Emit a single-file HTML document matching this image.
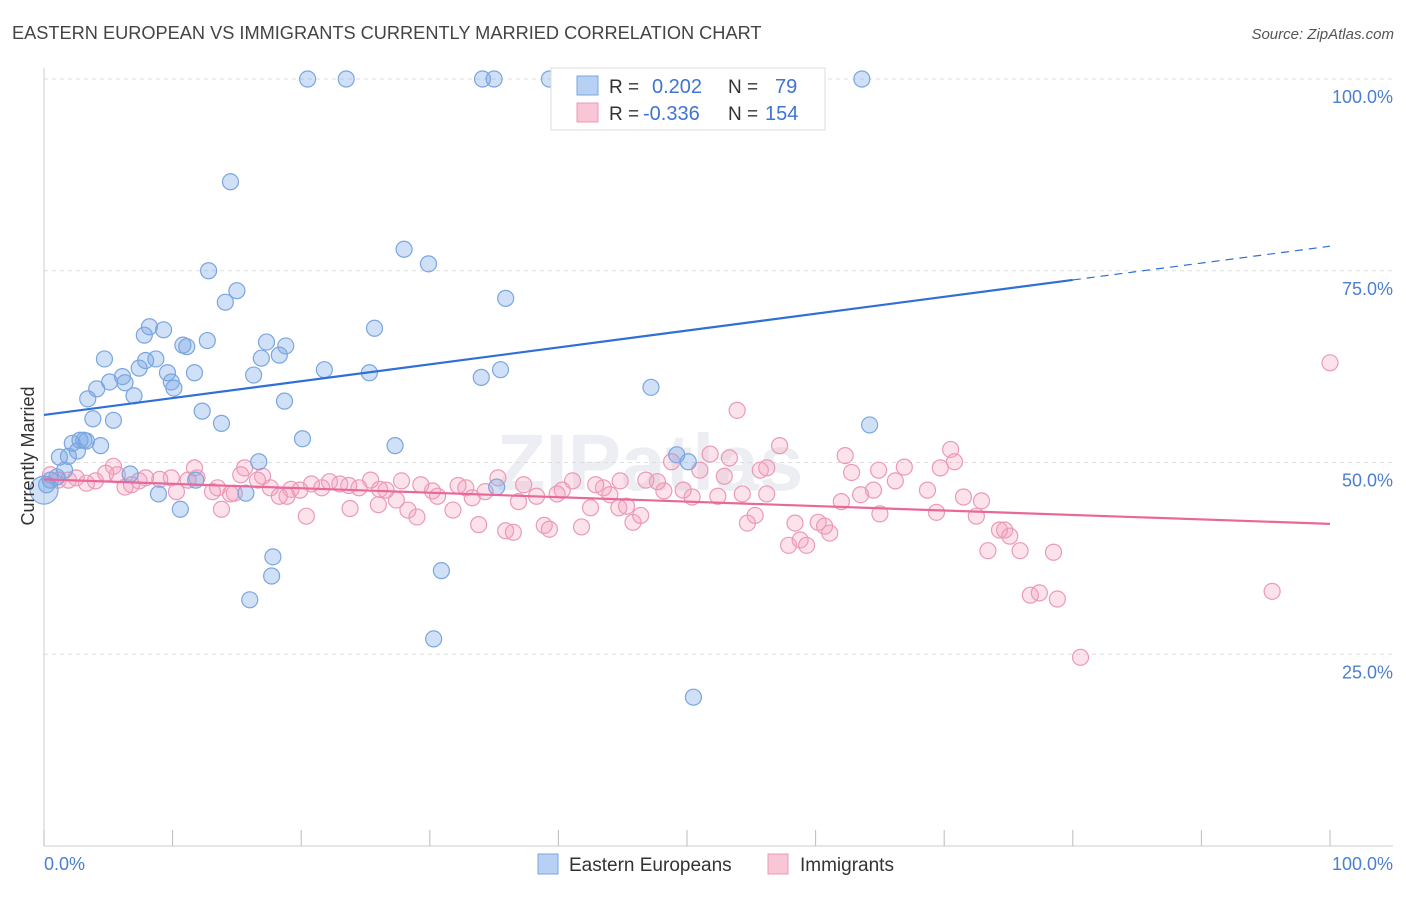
<!DOCTYPE html>
<html><head><meta charset="utf-8">
<style>
body{margin:0;background:#fff;font-family:"Liberation Sans",sans-serif;}
svg text{font-family:"Liberation Sans",sans-serif;}
</style></head>
<body>
<svg id="chart" width="1406" height="892">
<text x="12" y="39" font-size="18.2" fill="#444">EASTERN EUROPEAN VS IMMIGRANTS CURRENTLY MARRIED CORRELATION CHART</text>
<text x="1394" y="39" font-size="15" fill="#555" font-style="italic" text-anchor="end">Source: ZipAtlas.com</text>
<text x="650" y="490" font-size="80" fill="#eceef3" font-weight="bold" text-anchor="middle">ZIPatlas</text>
<g id="grid"></g>
<g id="axes"></g>
<g id="pts"></g>
<g id="lines"></g>
<text transform="translate(34,456) rotate(-90)" font-size="18" fill="#333" text-anchor="middle">Currently Married</text>
<g>
<rect x="551" y="68" width="274" height="62" fill="#fff" stroke="#ddd"/>
<rect x="577" y="76" width="21" height="19" fill="#b7d1f5" stroke="#7aa6e0"/>
<rect x="577" y="103" width="21" height="19" fill="#f9c6d6" stroke="#eb9ab5"/>
<text x="609" y="93" font-size="19" fill="#333">R =</text>
<text x="652" y="93" font-size="20" fill="#3f74d0">0.202</text>
<text x="728" y="93" font-size="19" fill="#333">N =</text>
<text x="775" y="93" font-size="20" fill="#3f74d0">79</text>
<text x="609" y="120" font-size="19" fill="#333">R =</text>
<text x="643" y="120" font-size="20" fill="#3f74d0">-0.336</text>
<text x="728" y="120" font-size="19" fill="#333">N =</text>
<text x="765" y="120" font-size="20" fill="#3f74d0">154</text>
</g>
<g>
<rect x="538" y="854" width="20" height="20" fill="#b7d1f5" stroke="#7aa6e0"/>
<text x="569" y="871" font-size="19" fill="#333">Eastern Europeans</text>
<rect x="768" y="854" width="20" height="20" fill="#f9c6d6" stroke="#eb9ab5"/>
<text x="800" y="871" font-size="19" fill="#333">Immigrants</text>
</g>
</svg>
<script>
const blueX=[20.5,23.5,34.1,35,39.3,63.6,14.5,12.8,28,29.9,15,14.1,35.9,8.2,9.3,7.8,25.7,12.7,10.8,11.1,17.3,18.8,16.9,18.3,4.7,7.9,8.7,7.4,11.7,9.6,21.8,16.3,25.3,34,35.5,6.1,6.3,5.1,9.9,10.1,4.1,7,3.4,18.7,47.2,12.3,3.8,5.4,13.8,64.2,2.8,3.1,2.2,3.3,20.1,27.3,4.4,2.6,1.9,1.2,49.2,50.1,16.7,1.6,6.7,1,0.5,0.2,0,11.8,8.9,15.7,10.6,35.2,17.8,17.7,30.9,16,30.3,50.5];
const blueY=[100,100,100,100,100,100,86.6,75,77.8,75.9,72.4,70.9,71.4,67.7,67.3,66.6,67.5,65.9,65.3,65.1,65.7,65.2,63.6,64,63.5,63.3,63.5,62.3,61.7,61.7,62.1,61.4,61.7,61.1,62.1,61.2,60.4,60.5,60.5,59.7,59.6,58.7,58.3,58,59.8,56.7,55.7,55.5,55.1,54.9,52.9,52.9,52.5,52.8,53.1,52.2,52.2,51.5,50.8,50.7,51,50.1,50.1,49,48.5,48.1,47.7,47.1,46.4,47.7,45.9,46,43.9,46.8,37.7,35.2,35.9,32.1,27,19.4];
const pinkX=[100,53.9,57.2,62.3,70.5,70.8,69.7,66.9,53.3,51.8,48.8,55.7,56.2,52.9,51,62.8,64.9,66.2,64.5,63.5,68.7,71.5,72.9,69.4,72.5,65,62,56.2,54.3,52.4,50.4,49.7,48.2,47.7,46.8,44.8,43.5,44,42.9,41.1,40.3,39.9,38.3,37.3,36.9,35.3,34.3,33.3,32.8,32.2,30.6,30.2,29.3,27.8,27.4,26.6,26.1,25.4,24.5,23.7,23,22.2,21.6,20.8,19.9,19.2,18.9,18.3,17.6,17,16.6,15.6,15.3,14.8,14.5,13.5,13.1,11.9,11.7,11.2,10.3,9.9,9,7.9,7.4,6.8,6.3,5.7,5.4,4.8,4,3.3,2.5,1.9,1.1,0.5,13.8,20.4,23.8,26,28.3,29,31.8,33.8,35.9,36.5,38.9,39.3,41.8,42.5,44.7,45.3,45.8,46.4,54.7,55.3,58.4,60.2,60.7,61.1,57.9,58.8,59.3,74.3,74.7,75.1,73.4,75.9,78.5,76.7,77.4,78.8,80.6,95.5];
const pinkY=[63,56.8,52.2,50.9,51.7,50.1,49.3,49.4,50.6,51.1,50.1,49,49.3,48.2,49,48.7,49,47.6,46.4,45.8,46.4,45.5,45,43.5,43,43.3,44.9,45.9,45.9,45.6,45.5,46.4,46.3,47.5,47.7,47.6,46.7,45.8,47.1,47.6,46.4,45.9,45.6,47.1,44.9,48,46.2,45.4,46.7,47,45.6,46.3,47.1,47.6,45.1,46.4,46.5,47.7,46.7,47,47.2,47.5,46.7,47.2,46.4,46.5,45.6,45.6,46.7,48.2,47.7,49.3,48.4,46,45.9,46.7,46.2,48,49.3,47.7,46.2,48,47.8,48,47.6,47.1,46.8,48.4,49.5,48.6,47.6,47.3,48,47.7,47.7,48.4,43.9,43,44,44.5,43.8,42.9,43.8,41.9,41.1,40.9,41.8,41.3,41.6,44.1,44.1,44.3,42.2,43.1,42.1,43.1,42.1,42.2,41.7,40.8,39.2,39.9,39.2,41.2,41.2,40.4,38.5,38.5,38.3,32.7,33,32.2,24.6,33.2];
const blueLine=[56.2,78.2]; // y at x=0 and x=100
const pinkLine=[47.8,42.0];
const yTicks=[25,50,75,100];
const xTicks=[0,10,20,30,40,50,60,70,80,90,100];
const NS='http://www.w3.org/2000/svg';
const X=v=>44+v*12.86, Y=v=>846-v*7.67;
function mk(tag,attrs,parent){const e=document.createElementNS(NS,tag);for(const k in attrs)e.setAttribute(k,attrs[k]);document.getElementById(parent).appendChild(e);return e;}
yTicks.forEach(t=>{
 const l=mk('line',{x1:44,x2:1393,y1:Y(t),y2:Y(t),stroke:'#ddd','stroke-dasharray':'4,4'},'grid');
 
 
 const tx=mk('text',{x:1393,y:Y(t)+24,'font-size':18,fill:'#4a7fd0','text-anchor':'end'},'axes');
 tx.textContent=t.toFixed(1)+'%';
 
 
});
const ax=mk('line',{x1:44,x2:1393,y1:846,y2:846,stroke:'#ccc'},'axes');


const ay=mk('line',{x1:44,x2:44,y1:68,y2:846,stroke:'#ccc'},'axes');


xTicks.forEach(t=>{
 const l=mk('line',{x1:X(t),x2:X(t),y1:830,y2:846,stroke:'#bbb'},'axes');
 
 
});
[[0,'0.0%','start',44],[100,'100.0%','end',1393]].forEach(a=>{
 const tx=mk('text',{x:a[3],y:870,'font-size':18,fill:'#4a7fd0','text-anchor':a[2]},'axes');
 tx.textContent=a[1];
 
 
});
pinkX.forEach((x,i)=>{
 const c=mk('circle',{cx:X(x),cy:Y(pinkY[i]),r:8,fill:'rgba(244,160,190,0.3)',stroke:'#eb9ab5','stroke-width':1.2},'pts');
 
 
});
blueX.forEach((x,i)=>{
 const c=mk('circle',{cx:X(x),cy:Y(blueY[i]),r:x===0?14:8,fill:'rgba(120,165,230,0.35)',stroke:'#7aa6e0','stroke-width':1.2},'pts');
 
 
});
const bAt=x=>blueLine[0]+(blueLine[1]-blueLine[0])*x/100;
const pAt=x=>pinkLine[0]+(pinkLine[1]-pinkLine[0])*x/100;
const bl=mk('line',{x1:X(0),y1:Y(bAt(0)),x2:X(80),y2:Y(bAt(80)),stroke:'#2f6fd6','stroke-width':2.2},'lines');


const bd=mk('line',{x1:X(80),y1:Y(bAt(80)),x2:X(100),y2:Y(bAt(100)),stroke:'#2f6fd6','stroke-width':1.2,'stroke-dasharray':'8,6'},'lines');


const pl=mk('line',{x1:X(0),y1:Y(pAt(0)),x2:X(100),y2:Y(pAt(100)),stroke:'#e8689a','stroke-width':2.2},'lines');


</script>
</body></html>
